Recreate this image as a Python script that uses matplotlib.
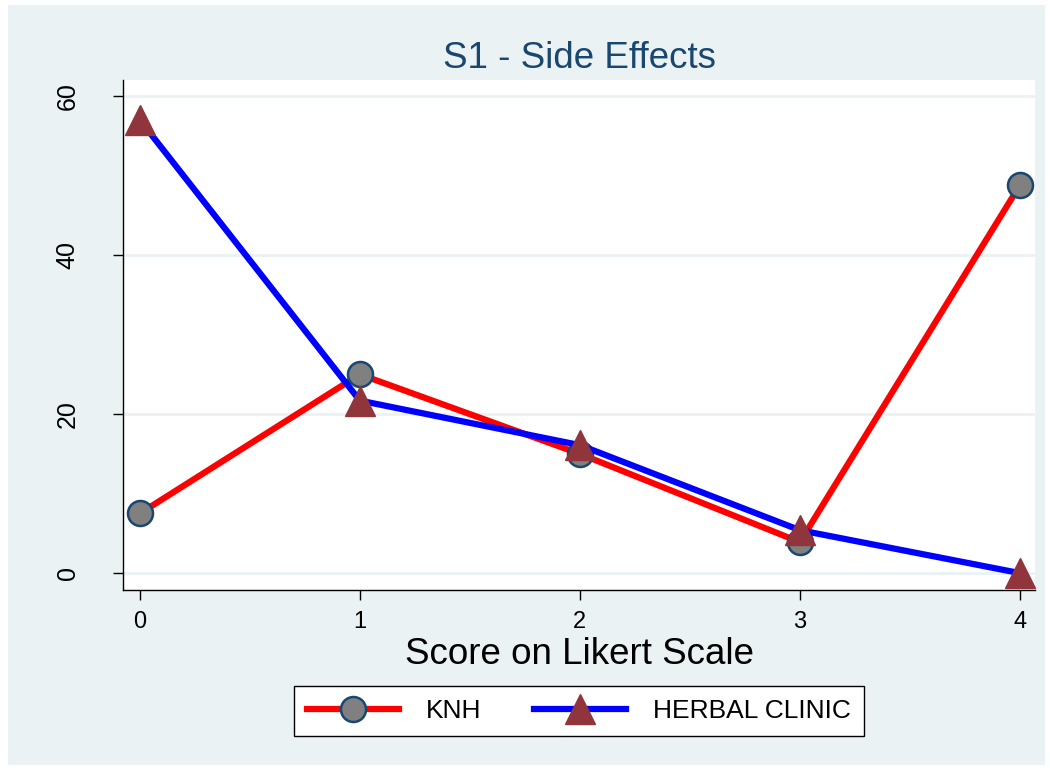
import matplotlib.pyplot as plt
from matplotlib.patches import Rectangle

plt.rcParams['font.family'] = ['Liberation Sans', 'DejaVu Sans']

# data
scores = [0, 1, 2, 3, 4]
knh = [7.5, 25.0, 15.0, 3.9, 48.8]
herbal = [57.0, 21.7, 16.1, 5.4, 0.0]

bg = "#EAF2F3"
navy = "#1A476F"

fig = plt.figure(figsize=(10.5, 7.71), dpi=100)
fig.patch.set_facecolor("white")
fig.patches.append(Rectangle((8 / 1050, 6 / 771), 1037 / 1050, 760 / 771,
                             transform=fig.transFigure, facecolor=bg,
                             edgecolor="none", zorder=-10))

ax = fig.add_axes([0.117, 0.235, 0.869, 0.661])
ax.set_facecolor("white")

ax.plot(scores, knh, color="red", lw=4.5, marker="o", markersize=18,
        markerfacecolor="#808080", markeredgecolor=navy, markeredgewidth=1.8,
        label="KNH", zorder=3)
ax.plot(scores, herbal, color="blue", lw=4.5, marker="^", markersize=21,
        markerfacecolor="#90353B", markeredgecolor="#90353B",
        label="HERBAL CLINIC", zorder=4)

ax.set_xlim(-0.077, 4.07)
ax.set_ylim(-2.1, 62)
ax.set_xticks(scores)
ax.set_yticks([0, 20, 40, 60])
ax.grid(axis="y", color=bg, lw=2)
ax.set_axisbelow(True)

for s in ["top", "right"]:
    ax.spines[s].set_visible(False)
for s in ["left", "bottom"]:
    ax.spines[s].set_color("black")
    ax.spines[s].set_linewidth(1)

ax.tick_params(axis="both", direction="out", length=7, width=1,
               labelsize=17)
ax.tick_params(axis="x", pad=8)
ax.tick_params(axis="y", pad=24, labelsize=18)
for lbl in ax.get_yticklabels():
    lbl.set_rotation(90)
    lbl.set_va("center")

ax.set_title("S1 - Side Effects", fontsize=26.5, color=navy, pad=9)
ax.set_xlabel("Score on Likert Scale", fontsize=26.5, labelpad=3)

leg = fig.legend(loc="center", bbox_to_anchor=(0.551, 0.0775), ncol=2,
                 fontsize=19, frameon=True, fancybox=False, framealpha=1,
                 handlelength=3.5, columnspacing=2.0, borderpad=0.5,
                 handletextpad=1.0)
leg.get_frame().set_edgecolor("black")
leg.get_frame().set_linewidth(1)

fig.savefig("out.png", dpi=100, facecolor=fig.get_facecolor())
